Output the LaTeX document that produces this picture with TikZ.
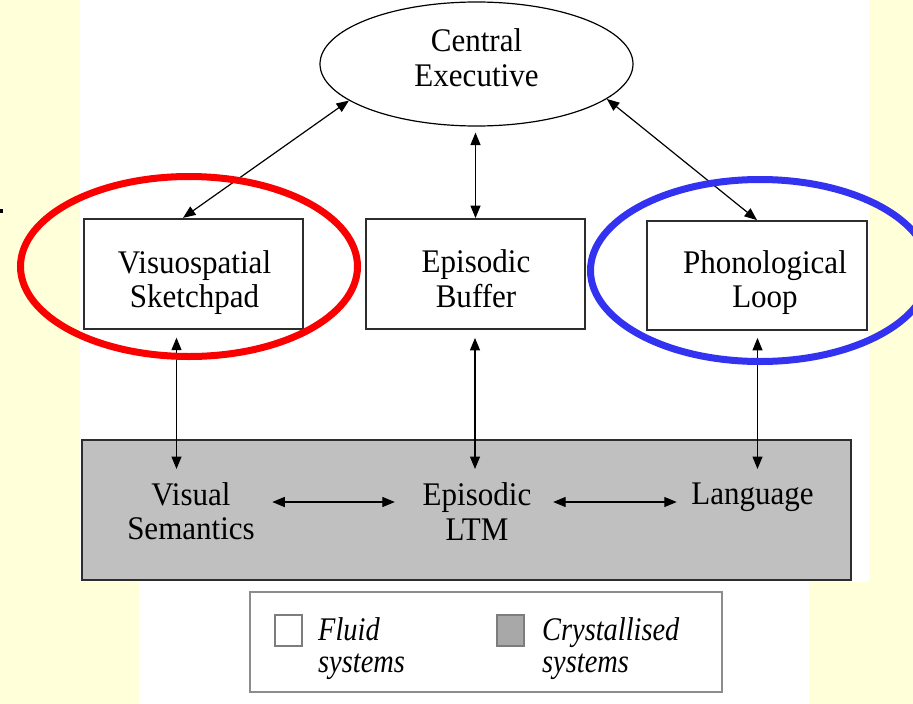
\documentclass[tikz,border=0pt]{standalone}
\usepackage{fontspec}
\setmainfont[FakeStretch=0.94]{Liberation Serif}
\newfontfamily\legfont[FakeStretch=0.86]{Liberation Serif}
\usetikzlibrary{arrows.meta,shapes.geometric}
\definecolor{bgyellow}{RGB}{255,255,218}
\definecolor{crysgray}{RGB}{192,192,192}
\definecolor{boxline}{RGB}{45,45,45}
\definecolor{ringred}{RGB}{250,0,0}
\definecolor{ringblue}{RGB}{50,50,240}
\definecolor{legfill}{RGB}{168,168,168}
\definecolor{legline}{RGB}{125,125,125}
\definecolor{legframe}{RGB}{140,140,140}
\begin{document}
\begin{tikzpicture}[x=1pt,y=-1pt,
  lbl/.style={font=\fontsize{33}{34.5}\selectfont, align=center, inner sep=0pt},
  legtxt/.style={font=\legfont\itshape\fontsize{33}{32}\selectfont, align=left, inner sep=0pt, anchor=west},
  sysbox/.style={draw=boxline, line width=1.8pt, minimum width=219pt, minimum height=110pt, inner sep=0pt, fill=white},
  arr/.style={{Triangle[length=12.5pt,width=10pt]}-{Triangle[length=12.5pt,width=10pt]}, line width=1.2pt},
  ring/.style={ellipse, line width=7pt, inner sep=0pt},
  legsq/.style={draw=legline, line width=2pt, minimum width=27pt, minimum height=31pt, inner sep=0pt}
]
\useasboundingbox (0,0) rectangle (913,704);
\fill[bgyellow] (0,0) rectangle (913,704);
\fill[white] (80,0) rectangle (869,582);
\fill[white] (139,582) rectangle (809,704);
\fill[black] (0,209) rectangle (3,213);

% central executive
\node[draw, ellipse, line width=1.2pt, minimum width=313pt, minimum height=124pt, inner sep=0pt] (ce) at (476.5,64) {};
\node[lbl] (cet) at (476.5,57.8) {Central\\Executive};

% fluid systems
\node[sysbox] (vs) at (193.5,273.75) {};
\node[lbl] (vst) at (194.5,282.4) {Visuospatial\\Sketchpad};
\node[sysbox] (eb) at (475.5,274) {};
\node[lbl] (ebt) at (476,278.8) {Episodic\\Buffer};
\node[sysbox, minimum width=220pt, minimum height=109pt] (pl) at (757,275.5) {};
\node[lbl] (plt) at (765,282.4) {Phonological\\Loop};

% crystallised systems
\node[draw=boxline, fill=crysgray, line width=1.8pt, minimum width=769pt, minimum height=140pt, inner sep=0pt] (crys) at (466.5,510) {};
\node[lbl] (vsem) at (191,511.3) {Visual\\Semantics};
\node[lbl] (eltm) at (477,511.3) {Episodic\\LTM};
\node[lbl] (lang) at (752.5,497.7) {Language};

% connectors
\coordinate (vsin) at (176.5,469);
\coordinate (ebin) at (475,469);
\coordinate (plin) at (757.5,469);
\coordinate (row) at (0,502);
\draw[arr] (ce.196) -- ([xshift=-10.5pt]vs.north);
\draw[arr] (ce.345) -- (pl.north);
\draw[arr, shorten <=6pt] (ce.south -| eb.north) -- (eb.north);
\draw[arr, shorten <=8pt] (vs.south -| vsin) -- (vsin);
\draw[arr, shorten <=8pt] (eb.south -| ebin) -- (ebin);
\draw[arr, shorten <=7pt] (pl.south -| plin) -- (plin);
\draw[arr, shorten <=17.3pt, shorten >=27.7pt] (vsem.east |- row) -- (eltm.west |- row);
\draw[arr, shorten <=21.7pt, shorten >=14.4pt] (eltm.east |- row) -- (lang.west |- row);

% highlight rings
\node[ring, draw=ringred, minimum width=337pt, minimum height=180pt] (redring) at (189,266.5) {};
\node[ring, draw=ringblue, minimum width=339pt, minimum height=182pt] (bluering) at (760,270.5) {};

% legend
\node[draw=legframe, line width=1.8pt, minimum width=472pt, minimum height=100pt, inner sep=0pt] (legend) at (486,642) {};
\node[legsq, fill=white] (fsq) at (288.5,630) {};
\node[legsq, fill=legfill] (csq) at (510,630) {};
\node[legtxt] (ftxt) at (318,648.4) {Fluid\\systems};
\node[legtxt] (ctxt) at (542,648.4) {Crystallised\\systems};
\end{tikzpicture}
\end{document}
